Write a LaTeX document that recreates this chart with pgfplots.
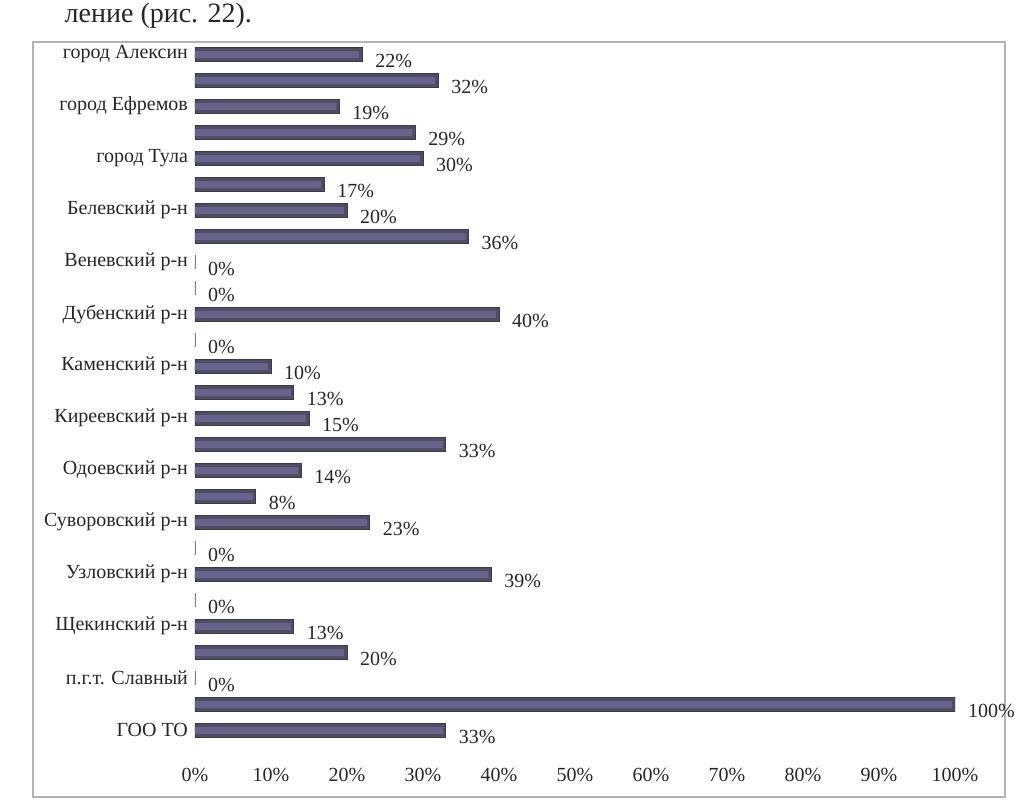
\documentclass[border=0pt]{standalone}
\usepackage{pgfplots}
\pgfplotsset{compat=1.18}
\usepackage{fontspec}
\setmainfont{Liberation Serif}
\definecolor{barEdge}{HTML}{3A3A4A}
\definecolor{barDark}{HTML}{4E4D62}
\definecolor{barMid}{HTML}{67638A}
\definecolor{txt}{HTML}{262626}
\begin{document}
\begin{tikzpicture}
\useasboundingbox (-97.5pt,-32pt) rectangle (412.5pt,371.5pt);
\node[anchor=base east, font=\fontsize{14}{16}\selectfont, text=txt] at (32pt,360pt) {ление (рис. 22).};
\draw[gray!60, line width=0.7pt] (-81pt,-27pt) rectangle (405pt,350.5pt);
\begin{axis}[
  at={(0,0)}, anchor=south west,
  scale only axis, width=380pt, height=351pt,
  xmin=0, xmax=100, ymin=0.5, ymax=27.5, y dir=reverse,
  axis line style={draw=none}, major tick length=0pt,
  /pgf/number format/assume math mode=true,
  xtick={0,10,...,100},
  xticklabel={\pgfmathprintnumber{\tick}\%},
  xticklabel style={yshift=-9pt},
  ytick={1,3,...,27},
  yticklabels={город Алексин, город Ефремов, город Тула, Белевский р-н, Веневский р-н, Дубенский р-н, Каменский р-н, Киреевский р-н, Одоевский р-н, Суворовский р-н, Узловский р-н, Щекинский р-н, п.г.т. Славный, ГОО ТО},
  ticklabel style={font=\fontsize{10}{12}\selectfont, text=txt},
]
\addplot[xbar, bar width=7pt, bar shift=0pt, draw=barEdge, line width=0.4pt, fill=barDark,
  nodes near coords={\pgfmathprintnumber{\pgfplotspointmeta}\%},
  point meta=x,
  every node near coord/.append style={font=\fontsize{10}{12}\selectfont, text=txt, anchor=west, xshift=3pt, yshift=-3.5pt}]
coordinates {
(22,1) (32,2) (19,3) (29,4) (30,5) (17,6) (20,7) (36,8) (0,9)
(0,10) (40,11) (0,12) (10,13) (13,14) (15,15) (33,16) (14,17) (8,18)
(23,19) (0,20) (39,21) (0,22) (13,23) (20,24) (0,25) (100,26) (33,27)
};
\addplot[xbar, bar width=3.6pt, bar shift=-0.3pt, draw=none, fill=barMid]
coordinates {
(21.6,1) (31.6,2) (18.6,3) (28.6,4) (29.6,5) (16.6,6) (19.6,7) (35.6,8)
(39.6,11) (9.6,13) (12.6,14) (14.6,15) (32.6,16) (13.6,17) (7.6,18)
(22.6,19) (38.6,21) (12.6,23) (19.6,24) (99.6,26) (32.6,27)
};
\end{axis}
\end{tikzpicture}
\end{document}
